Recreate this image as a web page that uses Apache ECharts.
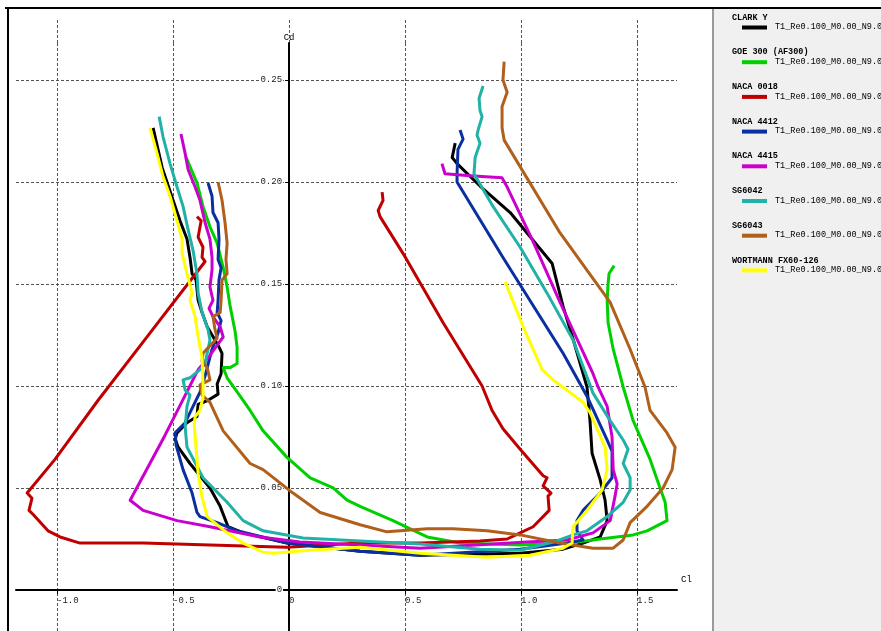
<!DOCTYPE html>
<html><head><meta charset="utf-8">
<script src="https://cdn.jsdelivr.net/npm/echarts@6/dist/echarts.min.js"></script>
<style>html,body{margin:0;padding:0;background:#fff}#c{width:881px;height:631px}</style>
</head><body><div id="c"></div>
<script>
// ---- data (Cl, Cd) ----
const seriesNames = ['CLARK Y','GOE 300 (AF300)','NACA 0018','NACA 4412','NACA 4415','SG6042','SG6043','WORTMANN FX60-126'];
const runLabel = 'T1_Re0.100_M0.00_N9.0';
const xTickValues = [-1, -0.5, 0, 0.5, 1, 1.5];
const yTickValues = [0, 0.05, 0.1, 0.15, 0.2, 0.25];

const clarkY = [[-0.586,0.2265],[-0.547,0.207],[-0.500,0.191],[-0.470,0.181],[-0.440,0.172],[-0.427,0.163],[-0.418,0.155],[-0.401,0.152],[-0.392,0.142],[-0.375,0.136],[-0.353,0.129],[-0.306,0.120],[-0.289,0.116],[-0.293,0.106],[-0.310,0.101],[-0.306,0.096],[-0.349,0.093],[-0.392,0.091],[-0.397,0.085],[-0.440,0.082],[-0.483,0.077],[-0.491,0.074],[-0.478,0.070],[-0.427,0.062],[-0.341,0.050],[-0.297,0.041],[-0.263,0.031],[-0.198,0.028],[-0.009,0.023],[0.306,0.019],[0.565,0.017],[0.996,0.018],[1.181,0.020],[1.267,0.023],[1.341,0.026],[1.371,0.034],[1.362,0.044],[1.341,0.054],[1.306,0.067],[1.297,0.083],[1.284,0.0995],[1.224,0.123],[1.181,0.139],[1.134,0.160],[0.953,0.185],[0.823,0.198],[0.724,0.209],[0.703,0.212],[0.716,0.219]];

const goe300 = [[-0.444,0.212],[-0.397,0.1995],[-0.371,0.188],[-0.341,0.178],[-0.310,0.170],[-0.284,0.158],[-0.267,0.1485],[-0.254,0.139],[-0.233,0.127],[-0.224,0.119],[-0.224,0.111],[-0.254,0.109],[-0.284,0.109],[-0.267,0.104],[-0.211,0.095],[-0.168,0.088],[-0.112,0.078],[-0.009,0.065],[0.091,0.055],[0.190,0.050],[0.250,0.044],[0.306,0.041],[0.448,0.034],[0.595,0.026],[0.737,0.023],[0.996,0.022],[1.211,0.023],[1.341,0.025],[1.483,0.027],[1.543,0.029],[1.629,0.034],[1.621,0.043],[1.599,0.050],[1.556,0.064],[1.483,0.083],[1.440,0.0995],[1.397,0.118],[1.375,0.131],[1.371,0.142],[1.375,0.150],[1.379,0.155],[1.401,0.159]];

const naca0018 = [[-0.397,0.183],[-0.379,0.181],[-0.392,0.173],[-0.371,0.168],[-0.375,0.163],[-0.362,0.161],[-0.599,0.126],[-0.823,0.093],[-1.009,0.064],[-1.129,0.0475],[-1.108,0.045],[-1.121,0.039],[-1.103,0.037],[-1.039,0.029],[-0.987,0.026],[-0.901,0.023],[-0.815,0.023],[-0.629,0.023],[-0.341,0.022],[-0.009,0.021],[0.306,0.023],[0.565,0.023],[0.823,0.024],[0.940,0.025],[0.996,0.028],[1.052,0.031],[1.121,0.039],[1.116,0.046],[1.129,0.0475],[1.095,0.051],[1.112,0.055],[1.095,0.056],[0.996,0.069],[0.922,0.079],[0.875,0.088],[0.832,0.100],[0.664,0.131],[0.491,0.165],[0.392,0.183],[0.384,0.186],[0.405,0.191],[0.401,0.195]];

const naca4412 = [[-0.349,0.1995],[-0.332,0.193],[-0.328,0.185],[-0.306,0.180],[-0.302,0.172],[-0.306,0.162],[-0.293,0.158],[-0.302,0.152],[-0.306,0.142],[-0.310,0.136],[-0.293,0.132],[-0.306,0.126],[-0.332,0.118],[-0.362,0.105],[-0.384,0.097],[-0.414,0.090],[-0.448,0.082],[-0.491,0.077],[-0.487,0.071],[-0.457,0.059],[-0.418,0.0475],[-0.397,0.038],[-0.384,0.036],[-0.310,0.033],[-0.224,0.029],[-0.009,0.023],[0.306,0.019],[0.565,0.017],[0.996,0.020],[1.198,0.023],[1.267,0.0245],[1.241,0.029],[1.241,0.034],[1.267,0.039],[1.341,0.0475],[1.392,0.055],[1.392,0.068],[1.371,0.0735],[1.284,0.095],[1.181,0.116],[0.922,0.163],[0.724,0.200],[0.724,0.204],[0.728,0.216],[0.750,0.221],[0.737,0.2255]];

const naca4415 = [[-0.466,0.2235],[-0.448,0.214],[-0.435,0.206],[-0.405,0.1975],[-0.384,0.191],[-0.362,0.180],[-0.341,0.172],[-0.332,0.163],[-0.332,0.157],[-0.341,0.1485],[-0.328,0.142],[-0.345,0.138],[-0.328,0.134],[-0.297,0.129],[-0.284,0.124],[-0.310,0.120],[-0.341,0.115],[-0.392,0.108],[-0.534,0.076],[-0.685,0.044],[-0.629,0.039],[-0.483,0.034],[-0.341,0.031],[-0.125,0.026],[0.047,0.0235],[0.306,0.022],[0.565,0.0205],[1.026,0.0235],[1.198,0.0245],[1.310,0.028],[1.384,0.034],[1.405,0.046],[1.414,0.052],[1.397,0.059],[1.392,0.075],[1.371,0.090],[1.332,0.0995],[1.310,0.106],[1.168,0.141],[1.047,0.172],[0.940,0.1975],[0.918,0.202],[0.780,0.203],[0.672,0.204],[0.659,0.209]];

const sg6042 = [[-0.560,0.232],[-0.543,0.222],[-0.513,0.209],[-0.483,0.1975],[-0.457,0.188],[-0.435,0.1765],[-0.414,0.1665],[-0.397,0.155],[-0.392,0.1455],[-0.375,0.136],[-0.349,0.1275],[-0.341,0.1225],[-0.353,0.116],[-0.362,0.111],[-0.384,0.108],[-0.427,0.104],[-0.457,0.103],[-0.448,0.098],[-0.427,0.0955],[-0.440,0.090],[-0.448,0.080],[-0.440,0.070],[-0.371,0.055],[-0.267,0.043],[-0.198,0.034],[-0.112,0.029],[0.060,0.0255],[0.306,0.024],[0.565,0.0225],[0.823,0.020],[0.996,0.0195],[1.155,0.024],[1.224,0.027],[1.284,0.029],[1.371,0.036],[1.440,0.043],[1.470,0.049],[1.470,0.055],[1.440,0.062],[1.461,0.069],[1.440,0.0735],[1.384,0.083],[1.310,0.0965],[1.224,0.1225],[1.112,0.1455],[0.996,0.168],[0.879,0.188],[0.797,0.204],[0.802,0.212],[0.823,0.219],[0.810,0.223],[0.815,0.2255],[0.832,0.232],[0.823,0.235],[0.819,0.241],[0.836,0.247]];

const sg6043 = [[-0.306,0.200],[-0.289,0.191],[-0.276,0.180],[-0.267,0.170],[-0.272,0.162],[-0.267,0.155],[-0.289,0.152],[-0.293,0.142],[-0.297,0.136],[-0.328,0.134],[-0.319,0.1275],[-0.310,0.1235],[-0.371,0.116],[-0.375,0.112],[-0.353,0.109],[-0.341,0.103],[-0.384,0.1005],[-0.375,0.0955],[-0.341,0.092],[-0.284,0.078],[-0.168,0.062],[-0.112,0.059],[0.017,0.0475],[0.134,0.038],[0.306,0.032],[0.422,0.0285],[0.595,0.030],[0.707,0.030],[0.853,0.029],[0.996,0.027],[1.168,0.023],[1.310,0.0205],[1.397,0.0205],[1.440,0.0245],[1.470,0.033],[1.543,0.041],[1.612,0.050],[1.651,0.059],[1.664,0.070],[1.629,0.077],[1.556,0.088],[1.534,0.0995],[1.470,0.118],[1.384,0.141],[1.168,0.175],[0.927,0.2205],[0.918,0.2265],[0.918,0.237],[0.940,0.244],[0.922,0.250],[0.927,0.259]];

const wortmann = [[-0.599,0.2265],[-0.569,0.214],[-0.543,0.2025],[-0.513,0.193],[-0.483,0.181],[-0.461,0.172],[-0.461,0.165],[-0.440,0.155],[-0.418,0.1455],[-0.427,0.142],[-0.405,0.134],[-0.392,0.124],[-0.375,0.114],[-0.371,0.1015],[-0.371,0.0945],[-0.384,0.088],[-0.405,0.085],[-0.409,0.081],[-0.392,0.057],[-0.375,0.0455],[-0.353,0.036],[-0.267,0.028],[-0.198,0.023],[-0.112,0.0185],[-0.069,0.018],[0.091,0.0195],[0.306,0.021],[0.565,0.018],[0.853,0.016],[1.039,0.017],[1.181,0.0205],[1.220,0.023],[1.224,0.031],[1.284,0.039],[1.349,0.049],[1.371,0.059],[1.362,0.070],[1.297,0.087],[1.267,0.092],[1.138,0.103],[1.091,0.108],[1.009,0.129],[0.931,0.151]];

const polars = [clarkY, goe300, naca0018, naca4412, naca4415, sg6042, sg6043, wortmann];

// ---- styles ----
const colors = ['#000000','#00d000','#c00000','#0a2fa0','#cc00cc','#20b2a6','#b0601a','#ffff00'];
const FONT = 'Liberation Mono';
const X_MIN = -1.177, X_MAX = 1.672, Y_MIN = -0.0201, Y_MAX = 0.2681;
const GRID = {left:16, right:204, top:43, bottom:0};
const gridLineStyle = {color:'#555', type:[3,2], width:1};

const chart = echarts.init(document.getElementById('c'), null, {renderer:'canvas'});

// offsets that place each axis on the other axis' zero
const plotW = 881 - GRID.left - GRID.right, plotH = 631 - GRID.top - GRID.bottom;
const yAxisOffset = -((0 - X_MIN) / (X_MAX - X_MIN) * plotW);
const xAxisOffset = -((0 - Y_MIN) / (Y_MAX - Y_MIN) * plotH);

const legendGraphics = [];
seriesNames.forEach((n, i) => {
  const y = 18 + i * 34.7;
  legendGraphics.push({type:'text', left:732, top:y-5, style:{text:n, fill:'#000', font:'bold 8.5px "'+FONT+'"'}});
  legendGraphics.push({type:'rect', shape:{x:742, y:y+7.5, width:25, height:4}, style:{fill:colors[i]}});
  legendGraphics.push({type:'text', left:775, top:y+4.5, style:{text:runLabel, fill:'#000', font:'8.5px "'+FONT+'"'}});
});

const option = {
  animation:false,
  backgroundColor:'#ffffff',
  grid:[
    Object.assign({containLabel:false, outerBoundsMode:'none'}, GRID),
    {left:GRID.left, right:GRID.right, top:20, height:23, containLabel:false, outerBoundsMode:'none'}
  ],
  xAxis:[{
    type:'value', min:X_MIN, max:X_MAX, position:'bottom', offset:xAxisOffset,
    name:'Cl', nameLocation:'end', nameGap:4,
    nameTextStyle:{fontFamily:FONT, fontSize:9, color:'#000', verticalAlign:'bottom', padding:[0,0,6,0]},
    axisLine:{onZero:false, lineStyle:{color:'#000', width:2}},
    axisTick:{show:true, customValues:xTickValues, length:4, lineStyle:{color:'#000'}},
    axisLabel:{customValues:xTickValues, formatter:v => v === 0 ? '0' : v.toFixed(1), align:'left', margin:6, fontFamily:FONT, fontSize:9, color:'#222'},
    splitLine:{show:true, lineStyle:gridLineStyle}
  },{
    // upper extension of the vertical grid lines
    gridIndex:1, type:'value', min:X_MIN, max:X_MAX,
    axisLine:{show:false}, axisLabel:{show:false},
    axisTick:{show:false, customValues:xTickValues},
    splitLine:{show:true, lineStyle:gridLineStyle}
  }],
  yAxis:[{
    type:'value', min:Y_MIN, max:Y_MAX, position:'left', offset:yAxisOffset,
    name:'Cd', nameLocation:'end', nameGap:1,
    nameTextStyle:{fontFamily:FONT, fontSize:9, color:'#000'},
    axisLine:{onZero:false, lineStyle:{color:'#000', width:2}},
    axisTick:{show:true, customValues:yTickValues, length:4, lineStyle:{color:'#000'}},
    axisLabel:{customValues:yTickValues, formatter:v => v === 0 ? '0' : v.toFixed(2), margin:6, fontFamily:FONT, fontSize:9, color:'#222', backgroundColor:'#ffffff', padding:[0,1]},
    splitLine:{show:true, lineStyle:gridLineStyle}
  },{
    gridIndex:1, type:'value', min:0, max:1, show:false
  }],
  series: polars.map((d, i) => ({
    name: seriesNames[i], type:'line', data:d, showSymbol:false, symbol:'none',
    lineStyle:{color:colors[i], width:3, join:'round'}, itemStyle:{color:colors[i]}, clip:true, z:2+i
  })),
  graphic:[
    {type:'rect', shape:{x:714, y:9, width:167, height:622}, style:{fill:'#f0f0f0'}, z:-10},
    {type:'line', shape:{x1:713, y1:9, x2:713, y2:631}, style:{stroke:'#9a9a9a', lineWidth:2}},
    {type:'line', shape:{x1:5, y1:8, x2:881, y2:8}, style:{stroke:'#000', lineWidth:2}},
    {type:'line', shape:{x1:8, y1:8, x2:8, y2:631}, style:{stroke:'#000', lineWidth:2}}
  ].concat(legendGraphics)
};
chart.setOption(option);
</script>
</body></html>
